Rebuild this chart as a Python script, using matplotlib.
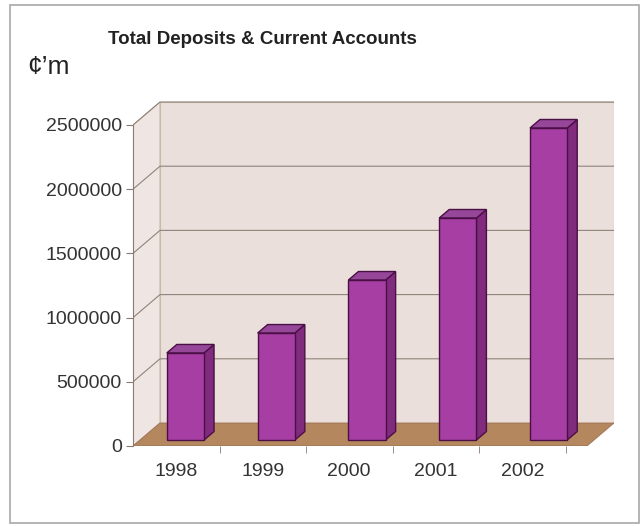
import numpy as np
import matplotlib
matplotlib.use("Agg")
import matplotlib.pyplot as plt
from matplotlib.patches import Polygon, Rectangle

years = ["1998", "1999", "2000", "2001", "2002"]
deposits = [678000, 833000, 1246000, 1729000, 2430000]
yticks = [0, 500000, 1000000, 1500000, 2000000, 2500000]

plt.rcParams['font.family'] = ['Liberation Sans', 'DejaVu Sans']

W, H = 644, 526
fig = plt.figure(figsize=(W / 100, H / 100), dpi=100)

# pixel geometry of the front plane (from the picture)
px_left, px_floor, px_top, px_right = 133, 446, 101, 614
slot_px = 90.8
val_per_px = 7788.0
xmax = -0.5 + (px_right - px_left) / slot_px
ymax = (px_floor - px_top) * val_per_px
pos = [px_left / W, (H - px_floor) / H, (px_right - px_left) / W, (px_floor - px_top) / H]
ax = fig.add_axes(pos)
ax.set_xlim(-0.5, xmax)
ax.set_ylim(0, ymax)

# depth of the 3d box in data units
DX = 27 / slot_px
DY = 23 * val_per_px
top = 2500000
n = len(years)
x0, x1 = -0.5, n - 0.5

wall = "#ebdfdc"
floor_c = "#b5875f"
grid_c = "#8f8479"

# back wall, left wall, floor
ax.add_patch(Polygon([(x0 + DX, DY), (x1 + DX, DY), (x1 + DX, top + DY), (x0 + DX, top + DY)],
                     closed=True, fc=wall, ec="#c9b9a8", lw=0.8, zorder=1))
ax.add_patch(Polygon([(x0, 0), (x0 + DX, DY), (x0 + DX, top + DY), (x0, top)],
                     closed=True, fc="#efe5e2", ec="#c9b9a8", lw=0.8, zorder=1))
ax.add_patch(Polygon([(x0, 0), (x1, 0), (x1 + DX, DY), (x0 + DX, DY)],
                     closed=True, fc=floor_c, ec="#9c7150", lw=0.6, zorder=2))

for v in yticks[1:]:
    ax.plot([x0, x0 + DX, x1 + DX], [v, v + DY, v + DY], color=grid_c, lw=0.8, zorder=1.5)

# bars
bw = 0.41
f0, f1 = 0.26, 0.63
for i, v in enumerate(deposits):
    bx = i - bw / 2 + f0 * DX
    by = f0 * DY
    ddx = (f1 - f0) * DX
    ddy = (f1 - f0) * DY
    ax.add_patch(Polygon([(bx + bw, by), (bx + bw + ddx, by + ddy), (bx + bw + ddx, by + ddy + v), (bx + bw, by + v)],
                         closed=True, fc="#812b7e", ec="#4a0f45", lw=1.0, zorder=3))
    ax.add_patch(Polygon([(bx, by + v), (bx + bw, by + v), (bx + bw + ddx, by + v + ddy), (bx + ddx, by + v + ddy)],
                         closed=True, fc="#96479a", ec="#4a0f45", lw=1.0, zorder=3))
    ax.add_patch(Rectangle((bx, by), bw, v, fc="#a63ea3", ec="#4a0f45", lw=1.0, zorder=4))

# axes
for s in ["top", "right", "bottom"]:
    ax.spines[s].set_visible(False)
ax.spines["left"].set_bounds(0, top)
ax.spines["left"].set_color("#8a7a70")
ax.spines["left"].set_zorder(5)
ax.plot([x0, x1], [0, 0], color="#8a7a70", lw=0.8, zorder=5)

ax.set_yticks(yticks)
ax.set_yticklabels([str(v) for v in yticks])
ax.tick_params(axis="y", length=5, color="#8a7a70", labelsize=14, labelcolor="#333333", pad=3)
ax.set_xticks([])

# category labels sit on a slightly narrower scale than the bars in the picture
lab_slot = 86.5
axl = fig.add_axes(pos, frameon=False)
axl.set_xlim(-0.5, -0.5 + (px_right - px_left) / lab_slot)
axl.set_ylim(0, ymax)
axl.set_yticks([])
axl.set_xticks(range(n))
axl.set_xticklabels(years)
axl.tick_params(axis="x", length=0, labelsize=14, labelcolor="#333333", pad=12)
axl.set_xticks(np.arange(n) + 0.5, minor=True)
axl.tick_params(axis="x", which="minor", length=5, color="#8a7a70")

fig.text(262 / W, 1 - 40 / H, "Total Deposits & Current Accounts", ha="center", va="center",
         fontsize=13.5, fontweight="bold", color="#222222")
fig.text(27 / W, 1 - 67 / H, "¢’m", ha="left", va="center", fontsize=19, color="#222222")

# outer frame
fig.add_artist(Rectangle((10 / W, 1 - 523 / H), 629 / W, 518 / H, transform=fig.transFigure,
                         fill=False, ec="#a8a8a8", lw=1.2))

fig.savefig("out.png", dpi=100)
